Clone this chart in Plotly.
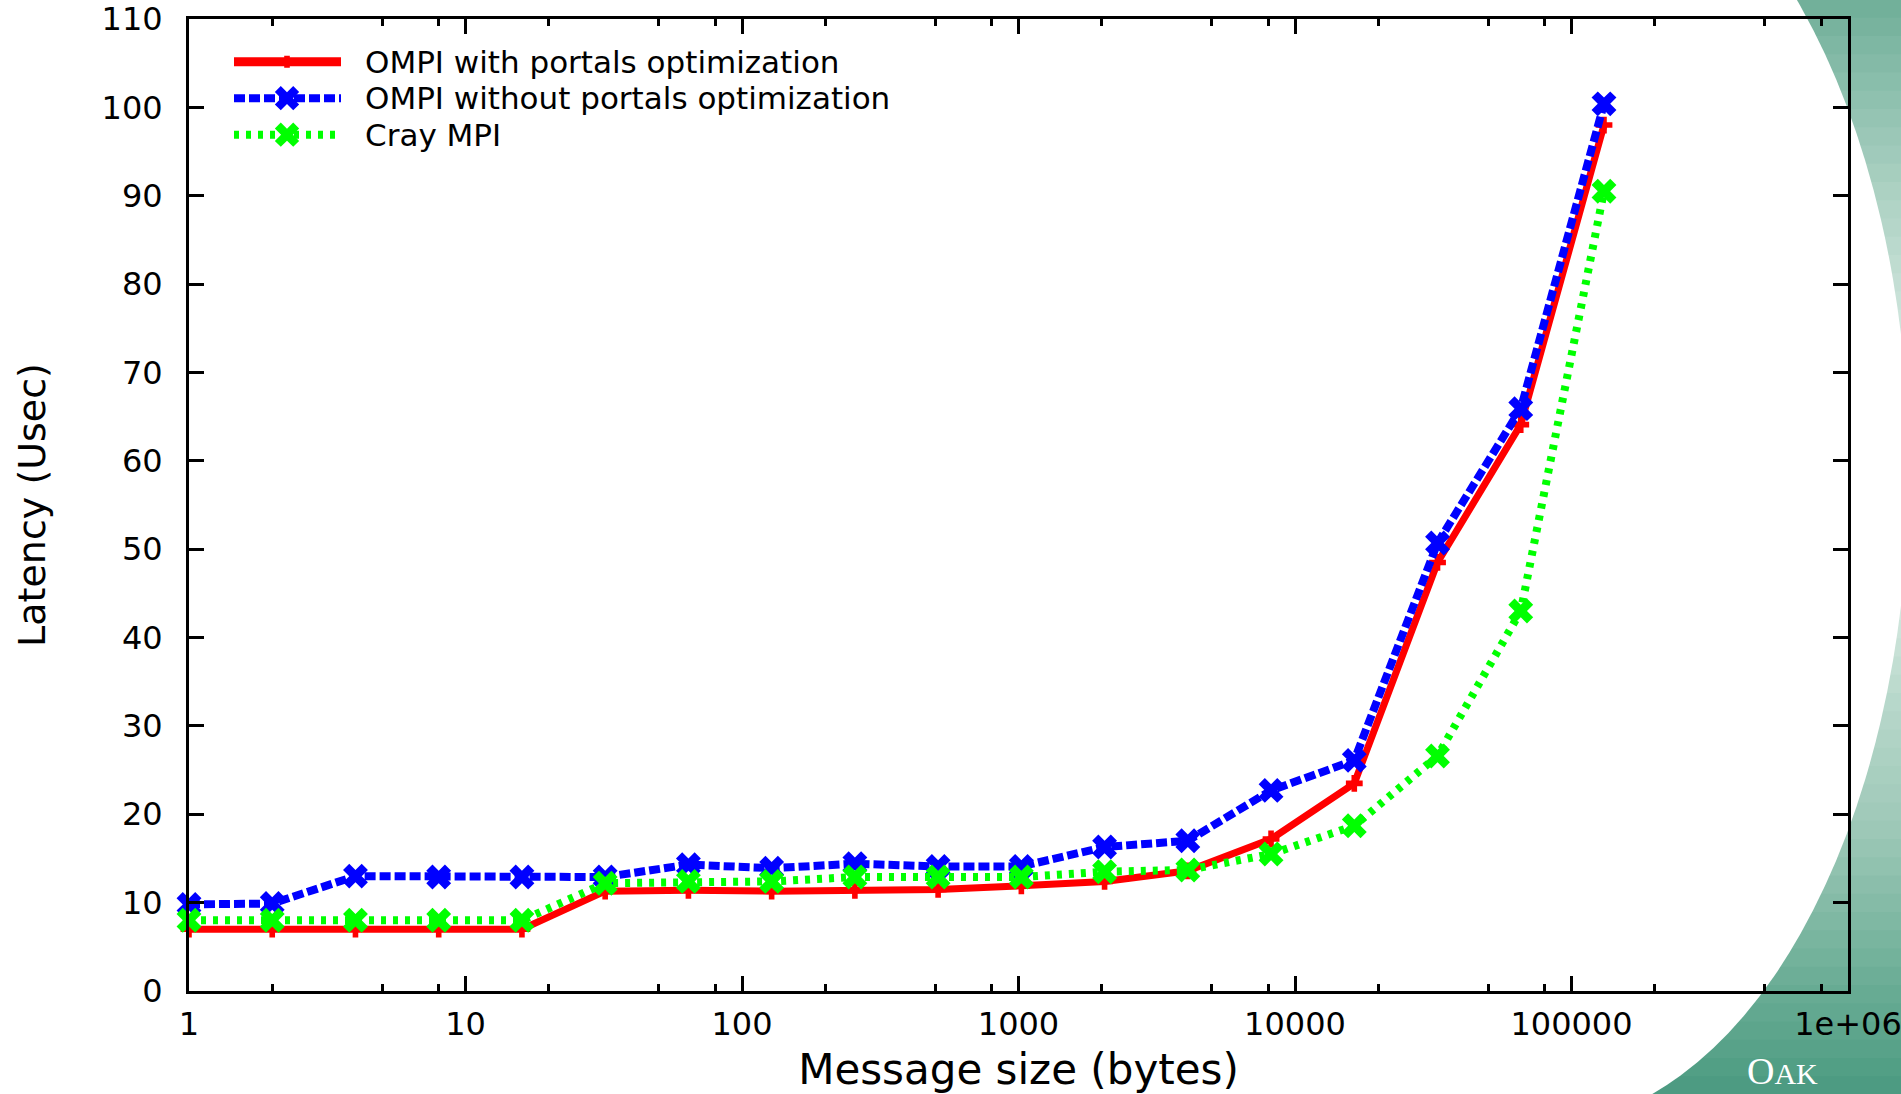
import math
import plotly.graph_objects as go

# ---------------- data ----------------
msg_size = [1, 2, 4, 8, 16, 32, 64, 128, 256, 512, 1024, 2048, 4096,
            8192, 16384, 32768, 65536, 131072]
ompi_with_opt = [7.0, 7.0, 7.0, 7.0, 7.0, 11.3, 11.4, 11.3, 11.4, 11.5, 11.9,
                 12.4, 13.6, 17.2, 23.5, 48.5, 64.1, 98.0]
ompi_without_opt = [9.8, 9.9, 13.0, 12.9, 12.9, 12.9, 14.3, 13.9, 14.4, 14.1,
                    14.1, 16.3, 17.0, 22.7, 26.1, 50.7, 65.9, 100.4]
cray_mpi = [8.0, 8.0, 8.0, 8.0, 8.0, 12.2, 12.4, 12.4, 12.9, 12.9, 12.9, 13.5,
            13.7, 15.5, 18.7, 26.6, 43.0, 90.5]

series_names = ["OMPI with portals optimization",
                "OMPI without portals optimization",
                "Cray MPI"]

x_tickvals = [1, 10, 100, 1000, 10000, 100000, 1000000]
x_ticktext = ["1", "10", "100", "1000", "10000", "100000", "1e+06"]
x_minor_vals = [m * 10 ** d for d in range(6) for m in (2, 5, 8)]
y_tickvals = list(range(0, 111, 10))

# ---------------- geometry ----------------
W, H = 1901, 1094
L, R, T, B = 189, 1848, 19.4, 990.6
FONT = "DejaVu Sans"

def px2paper(px, py):
    return (px - L) / (R - L), (B - py) / (B - T)

fig = go.Figure()

styles = [
    dict(color="#ff0000", width=7, dash="solid", symbol="cross", size=14),
    dict(color="#0000ff", width=8, dash="11px,4px", symbol="x", size=22),
    dict(color="#00ff00", width=8, dash="5px,7px", symbol="x", size=22),
]
for name, ys, st in zip(series_names,
                        [ompi_with_opt, ompi_without_opt, cray_mpi], styles):
    fig.add_trace(go.Scatter(
        x=msg_size, y=ys, name=name, mode="lines+markers",
        line=dict(color=st["color"], width=st["width"], dash=st["dash"]),
        marker=dict(symbol=st["symbol"], size=st["size"], color=st["color"],
                    line=dict(width=0)),
        showlegend=False, cliponaxis=False,
    ))

shapes = []
# ---------------- background decoration (gradient crescent) ----------------
grad = [(0, (111, 174, 152)), (100, (143, 193, 175)), (200, (174, 210, 196)),
        (300, (200, 225, 215)), (400, (226, 239, 233)), (470, (240, 247, 243)),
        (560, (226, 239, 233)), (700, (184, 216, 203)), (830, (157, 200, 183)),
        (990, (104, 172, 148)), (1094, (75, 154, 128))]
def gcol(y):
    for (y0, c0), (y1, c1) in zip(grad[:-1], grad[1:]):
        if y0 <= y <= y1:
            f = (y - y0) / (y1 - y0)
            return "rgb(%d,%d,%d)" % tuple(round(a + (b - a) * f) for a, b in zip(c0, c1))
    return "rgb(%d,%d,%d)" % grad[-1][1]
nb = 60
for i in range(nb):
    y0 = H * i / nb
    y1 = H * (i + 1) / nb + 1
    xa, ya = px2paper(1580, y0)
    xb, yb = px2paper(W + 5, y1)
    shapes.append(dict(type="rect", xref="paper", yref="paper", x0=xa, x1=xb,
                       y0=ya, y1=yb, fillcolor=gcol((y0 + y1) / 2),
                       line=dict(width=0), layer="below"))
# white ellipse cut-out
ecx, ecy, erx, ery = 1539, 470, 370, 655
ex0, ey0 = px2paper(ecx - erx, ecy - ery)
ex1, ey1 = px2paper(ecx + erx, ecy + ery)
shapes.append(dict(type="circle", xref="paper", yref="paper", x0=ex0, x1=ex1,
                   y0=ey0, y1=ey1, fillcolor="white", line=dict(width=0),
                   layer="below"))

# ---------------- manual legend ----------------
def star_path(a, w):
    return [(w, w), (w, a), (-w, a), (-w, w), (-a, w), (-a, -w), (-w, -w),
            (-w, -a), (w, -a), (w, -w), (a, -w), (a, w)]

def rot(pts, deg):
    c, s = math.cos(math.radians(deg)), math.sin(math.radians(deg))
    return [(x * c - y * s, x * s + y * c) for x, y in pts]

def path_str(pts):
    return "M" + "L".join("%.2f,%.2f" % p for p in pts) + "Z"

leg_rows = [62, 98.5, 135]
leg_x0, leg_x1, leg_mx, leg_tx = 234, 341, 287, 363
annotations = []
for row_y, name, st in zip(leg_rows, series_names, styles):
    xa, ya = px2paper(leg_x0, row_y)
    xb, _ = px2paper(leg_x1, row_y)
    shapes.append(dict(type="line", xref="paper", yref="paper", x0=xa, x1=xb,
                       y0=ya, y1=ya, layer="above",
                       line=dict(color=st["color"],
                                 width=st["width"] + (2 if st["dash"] == "solid" else 0),
                                 dash=st["dash"])))
    mx, my = px2paper(leg_mx, row_y)
    if st["symbol"] == "cross":
        pts = star_path(6, 2.8)
    else:
        pts = rot(star_path(13, 4.2), 45)
    shapes.append(dict(type="path", xref="paper", yref="paper",
                       xsizemode="pixel", ysizemode="pixel",
                       xanchor=mx, yanchor=my, path=path_str(pts),
                       fillcolor=st["color"], line=dict(width=0), layer="above"))
    tx, ty = px2paper(leg_tx, row_y)
    annotations.append(dict(xref="paper", yref="paper", x=tx, y=ty, text=name,
                            showarrow=False, xanchor="left", yanchor="middle",
                            font=dict(family=FONT, size=31, color="black")))

# OAK logo text
ox, oy = px2paper(1745, 1094)
annotations.append(dict(xref="paper", yref="paper", x=ox, y=oy,
                        text="O<span style='font-size:30px'>AK</span>",
                        showarrow=False, xanchor="left", yanchor="bottom",
                        font=dict(family="Liberation Serif", size=38, color="white")))

fig.update_layout(
    width=W, height=H,
    margin=dict(l=L, r=W - R, t=T, b=H - B, pad=0),
    paper_bgcolor="white", plot_bgcolor="rgba(0,0,0,0)",
    shapes=shapes, annotations=annotations,
    showlegend=False,
    font=dict(family=FONT, color="black"),
)
fig.update_xaxes(
    type="log", range=[0, 6], tickmode="array", tickvals=x_tickvals,
    ticktext=x_ticktext, ticks="inside", ticklen=15, tickwidth=2.5,
    tickcolor="black", showline=True, linewidth=3, linecolor="black",
    mirror="ticks", showgrid=False, zeroline=False, automargin=False,
    ticklabeloverflow="allow", ticklabelstandoff=3,
    tickfont=dict(family=FONT, size=32, color="black"),
    minor=dict(tickmode="array", tickvals=x_minor_vals, ticks="inside",
               ticklen=7, tickwidth=2.5, tickcolor="black", showgrid=False),
    title=dict(text="Message size (bytes)", standoff=14,
               font=dict(family=FONT, size=42, color="black")),
)
fig.update_yaxes(
    range=[0, 110], tickmode="array", tickvals=y_tickvals,
    ticks="inside", ticklen=15, tickwidth=2.5, tickcolor="black",
    showline=True, linewidth=3, linecolor="black", mirror="ticks",
    showgrid=False, zeroline=False, automargin=False,
    ticklabeloverflow="allow", ticklabelstandoff=17,
    tickfont=dict(family=FONT, size=32, color="black"),
    title=dict(text="Latency (Usec)", standoff=45,
               font=dict(family=FONT, size=38, color="black")),
)

fig.write_html("out.html")
